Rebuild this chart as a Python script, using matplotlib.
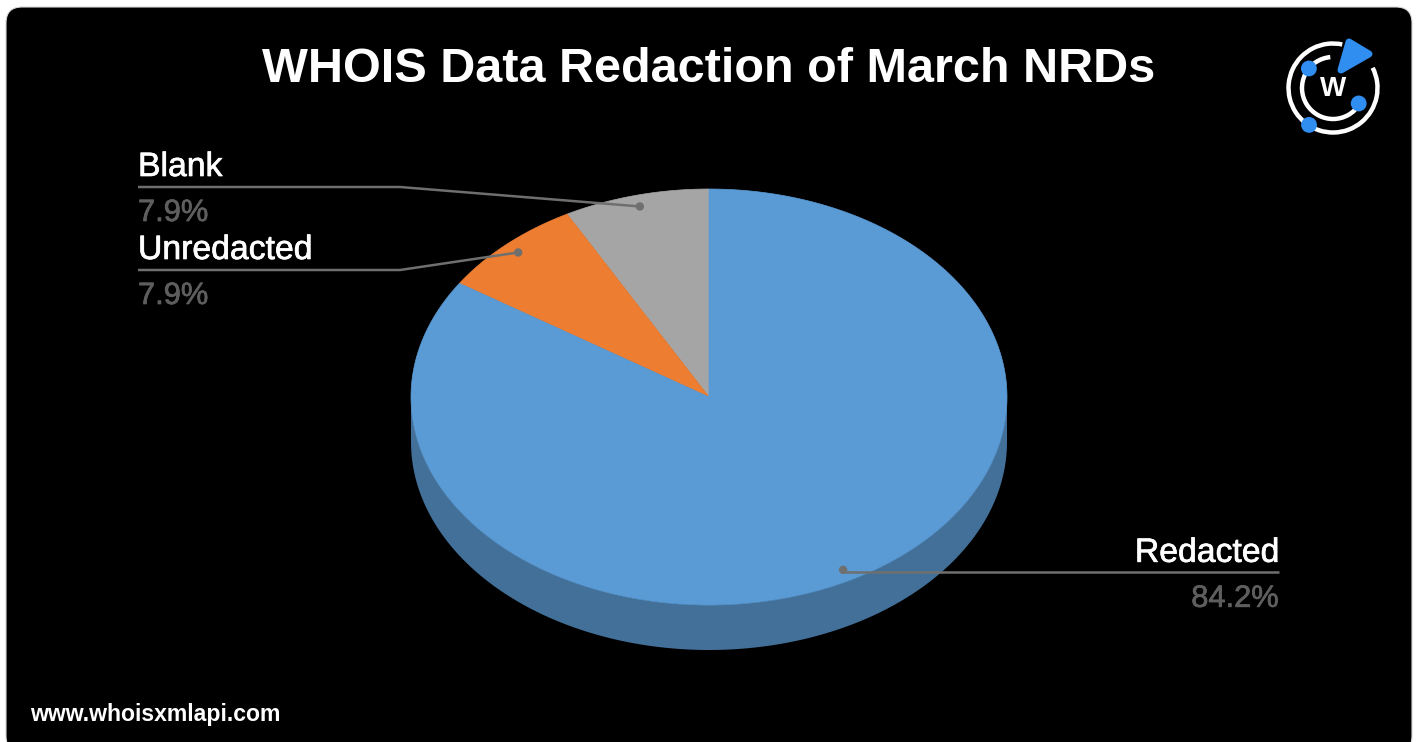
import matplotlib.pyplot as plt
import matplotlib.patheffects as pe
import numpy as np
from matplotlib.patches import FancyBboxPatch, Circle, Arc, Polygon

# data (counter-clockwise from 12 o'clock)
labels = ['Blank', 'Unredacted', 'Redacted']
shares = [7.9, 7.9, 84.2]
pct_text = ['7.9%', '7.9%', '84.2%']
colors = ['#a5a5a5', '#ed7d31', '#5b9bd5']

title = 'WHOIS Data Redaction of March NRDs'
footer = 'www.whoisxmlapi.com'

plt.rcParams['font.family'] = ['Liberation Sans', 'DejaVu Sans']

W, H = 1417, 742
fig = plt.figure(figsize=(W / 100, H / 100), dpi=100)
fig.patch.set_facecolor('white')
ax = fig.add_axes([0, 0, 1, 1])
ax.set_xlim(0, W)
ax.set_ylim(H, 0)
ax.axis('off')

# black card with rounded corners
ax.add_patch(FancyBboxPatch((6, 7), 1406, 745, boxstyle='round,pad=0,rounding_size=16',
                            fc='black', ec='#d8d8d8', lw=0.8))

# pie geometry (pixels)
cx, cy, rx, ry, depth = 709, 397, 298, 208, 45


def pt(a, r=1.0):
    return cx + rx * r * np.cos(a), cy - ry * r * np.sin(a)


def darker(c, f=0.72):
    rgb = np.array([int(c[i:i + 2], 16) for i in (1, 3, 5)]) / 255 * f
    return tuple(rgb)


frac = np.array(shares) / sum(shares)
edges = np.deg2rad(90 + 360 * np.concatenate([[0], np.cumsum(frac)]))

# side (front half only, 180..360 deg)
for i in range(len(shares)):
    a0 = max(edges[i], np.pi)
    a1 = min(edges[i + 1], 2 * np.pi)
    if a1 <= a0:
        continue
    t = np.linspace(a0, a1, 200)
    xs, ys = pt(t)
    ax.fill(np.concatenate([xs, xs[::-1]]), np.concatenate([ys, ys[::-1] + depth]),
            color=darker(colors[i]), lw=0)

# top face
for i in range(len(shares)):
    t = np.linspace(edges[i], edges[i + 1], 300)
    xs, ys = pt(t)
    ax.fill(np.concatenate([[cx], xs]), np.concatenate([[cy], ys]),
            fc=colors[i], ec=colors[i], lw=0.5)

# labels with leader lines
line_c = '#6f6f6f'
pct_c = '#5e5e5e'
heavy_w = [pe.withStroke(linewidth=0.5, foreground='white')]
heavy_g = [pe.withStroke(linewidth=0.5, foreground=pct_c)]
label_pos = {'Blank': ('left', 138, 187), 'Unredacted': ('left', 138, 270),
             'Redacted': ('right', 1279, None)}
for i, name in enumerate(labels):
    mid = (edges[i] + edges[i + 1]) / 2
    dx, dy = pt(mid, 0.945)
    side, lx, ly = label_pos[name]
    if side == 'left':
        ax.plot([lx, 400, dx], [ly, ly, dy], color=line_c, lw=1.8, solid_capstyle='butt')
        ax.text(lx, ly - 11, name, color='white', fontsize=24.3, ha='left', va='baseline',
                path_effects=heavy_w)
        ax.text(lx, ly + 34, pct_text[i], color=pct_c, fontsize=22.2, ha='left', va='baseline',
                path_effects=heavy_g)
    else:
        ly = dy + 2
        ax.plot([dx, lx], [ly, ly], color=line_c, lw=1.8, solid_capstyle='butt')
        ax.text(lx, ly - 10, name, color='white', fontsize=24.3, ha='right', va='baseline',
                path_effects=heavy_w)
        ax.text(lx, ly + 35, pct_text[i], color=pct_c, fontsize=22.2, ha='right', va='baseline',
                path_effects=heavy_g)
    ax.add_patch(Circle((dx, dy), 3.5, color=line_c))

# title and footer
ax.text(709, 69, title, color='white', fontsize=35, fontweight='bold', ha='center', va='center')
ax.text(30, 715, footer, color='white', fontsize=16.6, fontweight='bold', ha='left', va='center')

# logo (y axis inverted: data angle = -screen angle)
lx0, ly0 = 1333, 88
blue = '#2f8ef0'
ax.add_patch(Arc((lx0, ly0), 89, 89, theta1=-27, theta2=282, color='white', lw=3.2))
ax.add_patch(Arc((lx0, ly0), 62, 62, theta1=31, theta2=265, color='white', lw=3.2))
for ang, r in [(141, 31), (-31, 30), (237, 44)]:
    a = np.deg2rad(ang)
    ax.add_patch(Circle((lx0 + r * np.cos(a), ly0 - r * np.sin(a)), 7.2, color=blue))
ax.add_patch(Polygon([(1349, 42), (1369, 54), (1341, 70)], closed=True, fc=blue, ec=blue,
                     lw=5, joinstyle='round'))
ax.text(lx0, ly0 + 1, 'W', color='white', fontsize=20, fontweight='bold', ha='center', va='center')

fig.savefig('out.png', dpi=100, facecolor='white')
